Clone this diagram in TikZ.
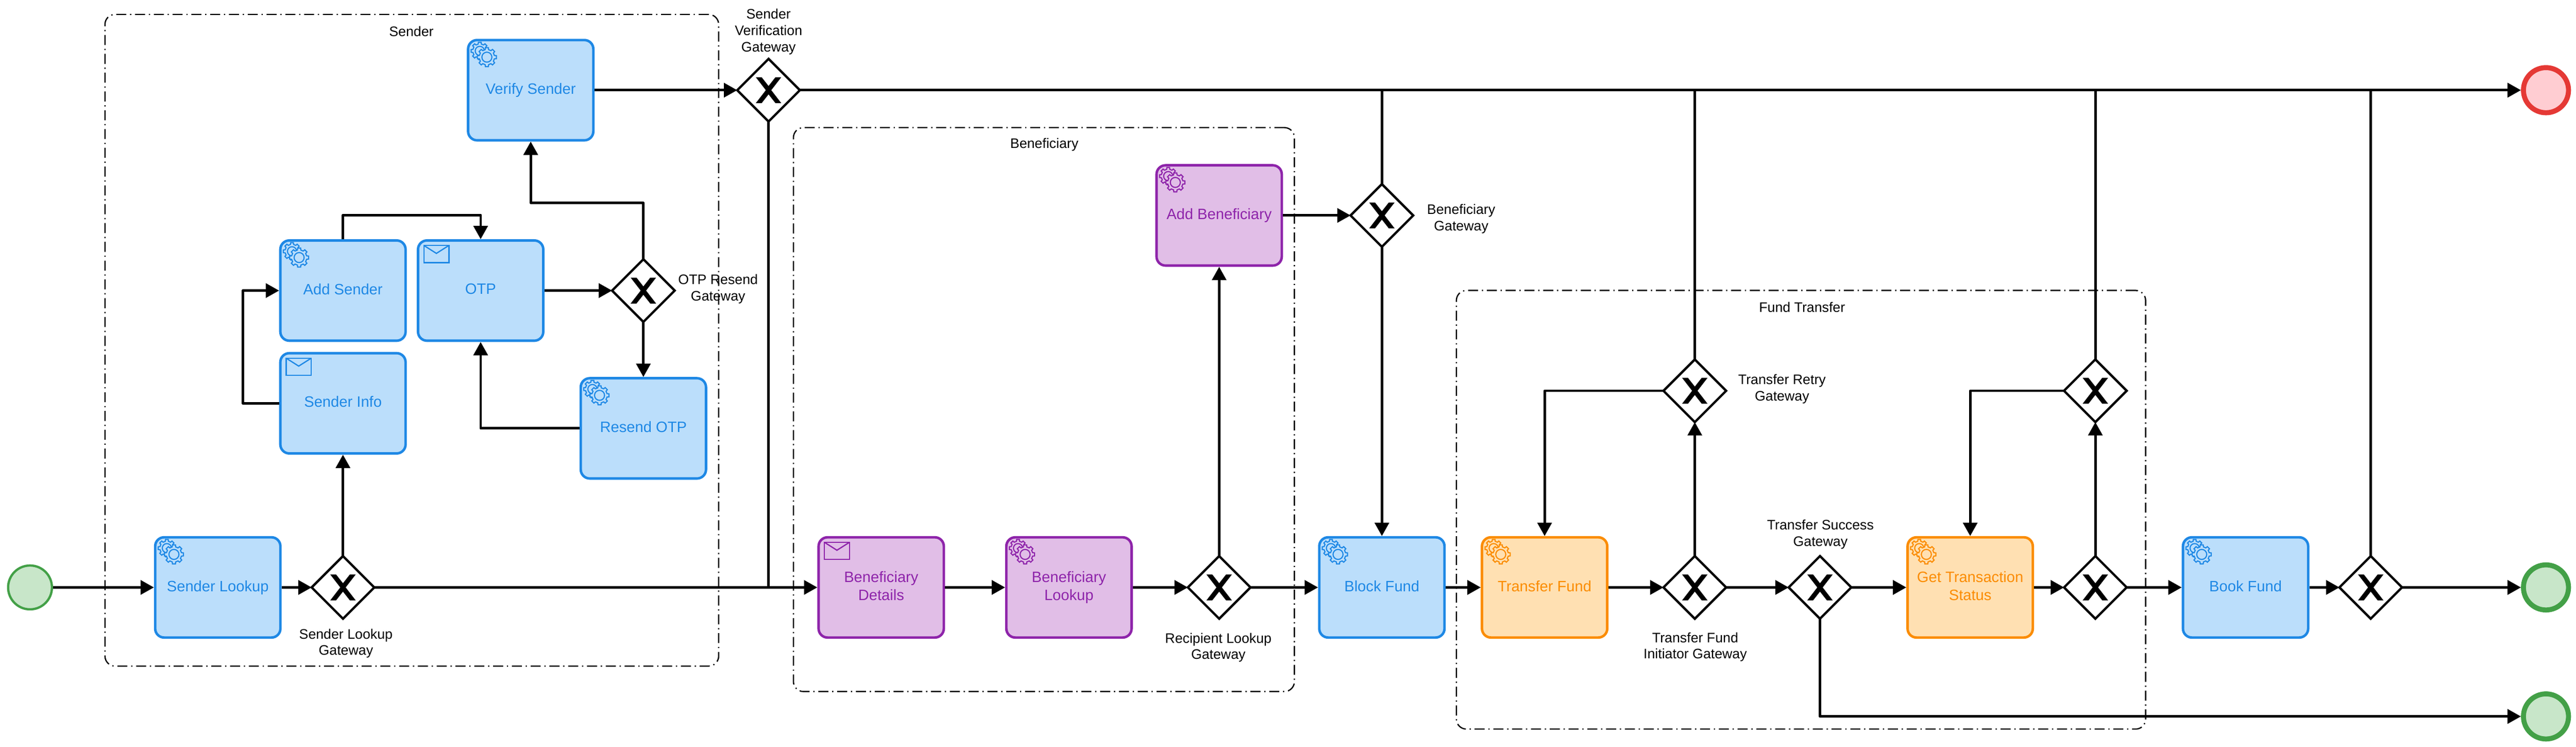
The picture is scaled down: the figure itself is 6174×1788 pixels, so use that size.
\documentclass[tikz,border=0pt]{standalone}
\usepackage{fontspec}
\setmainfont{Liberation Sans}
\usetikzlibrary{arrows.meta,shapes.geometric}
\definecolor{bline}{HTML}{1E88E5}\definecolor{bfill}{HTML}{BBDEFB}
\definecolor{pline}{HTML}{8E24AA}\definecolor{pfill}{HTML}{E1BEE7}
\definecolor{oline}{HTML}{FB8C00}\definecolor{ofill}{HTML}{FFE0B2}
\definecolor{gline}{HTML}{43A047}\definecolor{gfill}{HTML}{C8E6C9}
\definecolor{rline}{HTML}{E53935}\definecolor{rfill}{HTML}{FFCDD2}
\newcommand\gearshape[1]{(-13:0.8*#1) \foreach \a in {0,45,...,315}{ -- (\a-13:0.8*#1) -- (\a-9:#1) -- (\a+9:#1) -- (\a+13:0.8*#1) } -- cycle}
\tikzset{
  task/.style={rectangle,rounded corners=.215cm,minimum width=3cm,minimum height=2.4cm,inner sep=0pt,outer sep=.03cm,line width=.06cm,align=center,font=\fontsize{10.24}{12.3}\selectfont},
  btask/.style={task,draw=bline,fill=bfill,text=bline},
  ptask/.style={task,draw=pline,fill=pfill,text=pline},
  otask/.style={task,draw=oline,fill=ofill,text=oline},
  gateway/.style={diamond,aspect=1,draw=black,fill=white,minimum width=1.5cm,minimum height=1.5cm,inner sep=0pt,outer sep=0pt,line width=.055cm},
  startev/.style={circle,draw=gline,fill=gfill,minimum size=1.05cm,inner sep=0pt,outer sep=.03cm,line width=.055cm},
  endev/.style={circle,minimum size=1.08cm,inner sep=0pt,outer sep=.06cm,line width=.12cm},
  group/.style={rectangle,rounded corners=.24cm,draw=black,line width=.03cm,inner sep=0pt,dash pattern=on .24cm off .09cm on .03cm off .09cm},
  lbl/.style={align=center,inner sep=0pt,text=black,font=\fontsize{9.39}{11.1}\selectfont},
  flow/.style={draw=black,line width=.06cm,line join=round},
  arr/.style={flow,-{Triangle[length=.32cm,width=.34cm]}},
  pics/xmark/.style={code={
    \fill[black] (-30.5,-31)--(-16.5,-31)--(0,-10)--(16.5,-31)--(30.5,-31)--(6.5,0)--(30.5,31)--(16.5,31)--(0,10)--(-16.5,31)--(-30.5,31)--(-6.5,0)--cycle;}},
  pics/gearicon/.style={code={
    \begin{scope}[shift={(31,29)}]
      \draw[draw=#1line,fill=#1fill,line width=.027cm] \gearshape{21};
      \draw[draw=#1line,line width=.027cm] (0,0) circle[radius=11];
    \end{scope}
    \begin{scope}[shift={(48,44)}]
      \draw[draw=#1line,fill=#1fill,line width=.027cm] \gearshape{23};
      \draw[draw=#1line,line width=.027cm] (0,0) circle[radius=12];
    \end{scope}}},
  pics/mailicon/.style={code={
    \draw[draw=#1line,line width=.03cm] (17,15) rectangle (77,56);
    \draw[draw=#1line,line width=.03cm] (17,15) -- (47,34) -- (77,15);}}
}
\begin{document}
\begin{tikzpicture}[x=.01cm,y=-.01cm]
\path[use as bounding box] (0,0) rectangle (6174,1788);
% groups
\node[group,minimum width=14.7cm,minimum height=15.6cm] (gsender) at (987,815) {};
\node[group,minimum width=12cm,minimum height=13.5cm] (gbenef) at (2502,981) {};
\node[group,minimum width=16.51cm,minimum height=10.5cm] (gfund) at (4316.5,1221) {};
\node[lbl] (lsender) at (986,75) {Sender};
\node[lbl] (lbenef) at (2503,346) {Beneficiary};
\node[lbl] (lfund) at (4319,736) {Fund Transfer};
% events
\node[startev] (start) at (72,1407) {};
\node[endev,draw=rline,fill=rfill] (endr) at (6102,216) {};
\node[endev,draw=gline,fill=gfill] (endg) at (6102,1407) {};
\node[endev,draw=gline,fill=gfill] (endh) at (6102,1716) {};
% tasks
\node[btask] (lookup) at (522,1407) {Sender Lookup};
\node[btask] (info) at (822,966) {Sender Info\vphantom{p}};
\node[btask] (add) at (822,696) {Add Sender\vphantom{p}};
\node[btask] (otp) at (1152,696) {OTP\vphantom{p}};
\node[btask] (resend) at (1542,1026) {Resend OTP\vphantom{p}};
\node[btask] (verify) at (1272,216) {Verify Sender};
\node[ptask] (bdet) at (2112,1407) {Beneficiary\\Details\vphantom{p}};
\node[ptask] (blook) at (2562,1407) {Beneficiary\\Lookup};
\node[ptask] (badd) at (2922,516) {Add Beneficiary};
\node[btask] (block) at (3312,1407) {Block Fund\vphantom{p}};
\node[otask] (tf) at (3702,1407) {Transfer Fund\vphantom{p}};
\node[otask] (gts) at (4722,1407) {Get Transaction\\Status\vphantom{p}};
\node[btask] (book) at (5382,1407) {Book Fund\vphantom{p}};
% icons
\pic at (lookup.north west) {gearicon=b};
\pic at (info.north west) {mailicon=b};
\pic at (add.north west) {gearicon=b};
\pic at (otp.north west) {mailicon=b};
\pic at (resend.north west) {gearicon=b};
\pic at (verify.north west) {gearicon=b};
\pic at (bdet.north west) {mailicon=p};
\pic at (blook.north west) {gearicon=p};
\pic at (badd.north west) {gearicon=p};
\pic at (block.north west) {gearicon=b};
\pic at (tf.north west) {gearicon=o};
\pic at (gts.north west) {gearicon=o};
\pic at (book.north west) {gearicon=b};
% gateways
\node[gateway] (gl) at (822,1407) {};
\node[gateway] (go) at (1542,696) {};
\node[gateway] (gv) at (1842,216) {};
\node[gateway] (gr) at (2922,1407) {};
\node[gateway] (gb) at (3312,516) {};
\node[gateway] (gi) at (4062,1407) {};
\node[gateway] (gy) at (4062,936) {};
\node[gateway] (gs) at (4362,1407) {};
\node[gateway] (gt) at (5022,1407) {};
\node[gateway] (gu) at (5022,936) {};
\node[gateway] (gf) at (5682,1407) {};
\foreach \g in {gl,go,gv,gr,gb,gi,gy,gs,gt,gu,gf} {\pic at (\g) {xmark};}
% gateway labels
\node[lbl] (tl) at (829,1541) {Sender Lookup\\Gateway};
\node[lbl] (to) at (1721,692) {OTP Resend\\Gateway};
\node[lbl] (tv) at (1842,76) {Sender\\Verification\\Gateway};
\node[lbl] (tr) at (2920,1551) {Recipient Lookup\\Gateway};
\node[lbl] (tb) at (3502,524) {Beneficiary\\Gateway};
\node[lbl] (ti) at (4063,1550) {Transfer Fund\\Initiator Gateway};
\node[lbl] (ty) at (4271,932) {Transfer Retry\\Gateway};
\node[lbl] (ts) at (4363,1280) {Transfer Success\\Gateway};
% connectors
\draw[arr] (start) -- (lookup);
\draw[arr] (lookup) -- (gl);
\draw[arr] (gl) -- (info);
\coordinate (infoleft) at (582,966);
\draw[arr] (info.west) -- (infoleft) |- (add.west);
\coordinate (addtop) at (822,515);
\draw[arr] (add.north) -- (addtop) -| (otp.north);
\draw[arr] (otp) -- (go);
\coordinate (otpup) at (1542,486);
\draw[arr] (go.north) -- (otpup) -| (verify.south);
\draw[arr] (go) -- (resend);
\draw[arr] (resend.west) -| (otp.south);
\draw[arr] (verify) -- (gv);
\draw[arr] (gv) -- (endr);
\draw[flow] (gv.south) -- (gv.south |- gl);
\draw[arr] (gl) -- (bdet);
\draw[arr] (bdet) -- (blook);
\draw[arr] (blook) -- (gr);
\draw[arr] (gr) -- (badd);
\draw[arr] (badd) -- (gb);
\draw[arr] (gr) -- (block);
\draw[arr] (gb) -- (block);
\draw[flow] (gb.north) -- (gb.north |- endr);
\draw[arr] (block) -- (tf);
\draw[arr] (tf) -- (gi);
\draw[arr] (gi) -- (gs);
\draw[arr] (gi) -- (gy);
\draw[flow] (gy.north) -- (gy.north |- endr);
\draw[arr] (gy.west) -| (tf.north);
\draw[arr] (gs) -- (gts);
\draw[arr] (gs.south) |- (endh.west);
\draw[arr] (gts) -- (gt);
\draw[arr] (gt) -- (gu);
\draw[flow] (gu.north) -- (gu.north |- endr);
\draw[arr] (gu.west) -| (gts.north);
\draw[arr] (gt) -- (book);
\draw[arr] (book) -- (gf);
\draw[arr] (gf) -- (endg);
\draw[flow] (gf.north) -- (gf.north |- endr);
\end{tikzpicture}
\end{document}
